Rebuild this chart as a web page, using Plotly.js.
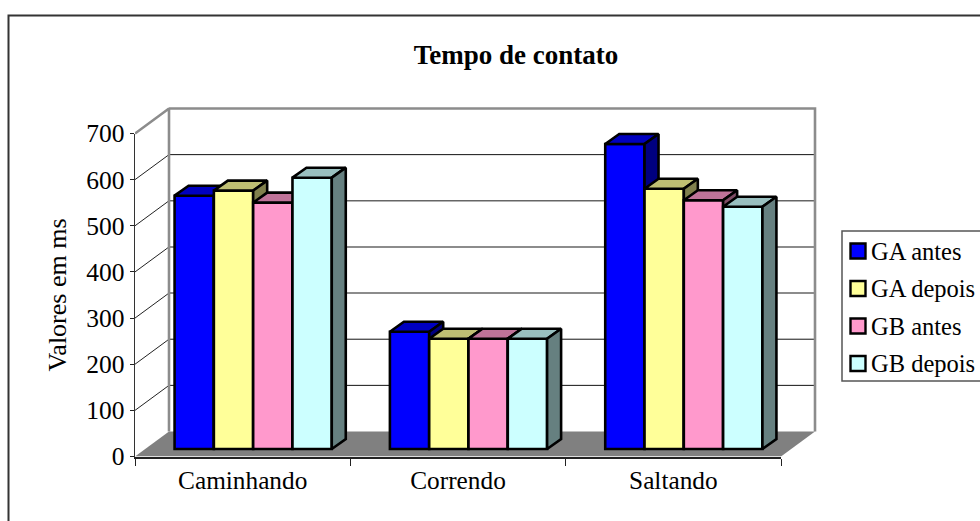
<!DOCTYPE html>
<html><head><meta charset="utf-8">
<script src="https://cdn.plot.ly/plotly-3.0.1.min.js"></script>
<style>html,body{margin:0;padding:0;background:#fff;overflow:hidden}</style>
</head><body><div id="chart" style="width:980px;height:521px"></div>
<script>
const categories = ['Caminhando', 'Correndo', 'Saltando'];
const seriesNames = ['GA antes', 'GA depois', 'GB antes', 'GB depois'];
const gaAntes = [549, 254, 661];
const gaDepois = [560, 239, 564];
const gbAntes = [534, 239, 539];
const gbDepois = [588, 239, 525];
const seriesValues = [gaAntes, gaDepois, gbAntes, gbDepois];
const yTicks = [0, 100, 200, 300, 400, 500, 600, 700];

// styles
const frontColors = ['#0000FF', '#FFFF99', '#FF99CC', '#CCFFFF'];
const topColors = ['#0000C0', '#BFBF73', '#BF7399', '#99BFBF'];
const sideColors = ['#000080', '#80804D', '#804D66', '#668080'];
const gridColors = ['', '#111', '#111', '#666', '#666', '#666', '#111', ''];
const gridWidths = [0, 1, 1, 1.6, 1.6, 1.6, 1, 0];
const F = 'Liberation Serif, Times New Roman, serif';
const edge = 2.6;

// plot geometry (pixels)
const W = 980, H = 521, PAD = 5;
const X0 = 135, X1 = 781, Y0 = 456.5, Y700 = 133.5;
const wallPx = [34, 25], barDepthPx = [14, 10], barShiftPx = [10.5, 7.5];
const pxPerCat = (X1 - X0) / categories.length, pxPerUnit = (Y0 - Y700) / 700;
const ux = p => p / pxPerCat, uy = p => p / pxPerUnit;
const wallDx = ux(wallPx[0]), wallDy = uy(wallPx[1]);
const depthDx = ux(barDepthPx[0]), depthDy = uy(barDepthPx[1]);
const baseDx = ux(barShiftPx[0]), baseDy = uy(barShiftPx[1]);
const barW = 39.3 / pxPerCat;
const left = -0.5, right = categories.length - 0.5, ymax = yTicks[yTicks.length - 1];

const traces = [];
const line = (xs, ys, color, width) => ({type: 'scatter', mode: 'lines', x: xs, y: ys, xaxis: 'x', yaxis: 'y', cliponaxis: false,
  line: {color, width}, hoverinfo: 'skip', showlegend: false});

// floor
traces.push({type: 'scatter', mode: 'lines', xaxis: 'x', yaxis: 'y', fill: 'toself', fillcolor: '#808080',
  x: [left, right, right + wallDx, left + wallDx, left], y: [0, 0, wallDy, wallDy, 0],
  line: {width: 0, color: '#808080'}, hoverinfo: 'skip', showlegend: false});
// back-wall grid lines and side-wall diagonals
yTicks.forEach((t, i) => {
  if (t > 0 && t < ymax) traces.push(line([left + wallDx, right + wallDx], [t + wallDy, t + wallDy], gridColors[i], gridWidths[i]));
  if (t > 0 && t < ymax) traces.push(line([left, left + wallDx], [t, t + wallDy], '#222', 1));
});
// wall frame
traces.push(line([left, left + wallDx, left + wallDx], [ymax, ymax + wallDy, wallDy], '#8c8c8c', 2.6));
traces.push(line([left + wallDx, right + wallDx, right + wallDx], [ymax + wallDy, ymax + wallDy, wallDy], '#8c8c8c', 2.6));

// one overlaid subplot per series, so each series paints over the previous one
seriesValues.forEach((vals, s) => {
  const ax = String(s + 2);
  const xs = vals.map((v, c) => c + baseDx + (s - 1.5) * barW);
  traces.push({type: 'bar', x: xs, y: vals, base: vals.map(() => baseDy), width: barW, name: seriesNames[s],
    xaxis: 'x' + ax, yaxis: 'y' + ax, showlegend: false,
    marker: {color: frontColors[s], line: {color: '#000', width: edge}}});
  const tx = [], ty = [], sx = [], sy = [];
  vals.forEach((v, c) => {
    const a = xs[c] - barW / 2, b = xs[c] + barW / 2, top = baseDy + v;
    tx.push(a, b, b + depthDx, a + depthDx, a, null);
    ty.push(top, top, top + depthDy, top + depthDy, top, null);
    sx.push(b, b + depthDx, b + depthDx, b, b, null);
    sy.push(baseDy, baseDy + depthDy, top + depthDy, top, baseDy, null);
  });
  [[tx, ty, topColors[s]], [sx, sy, sideColors[s]]].forEach(([px, py, col]) => traces.push({
    type: 'scatter', mode: 'lines', x: px, y: py, xaxis: 'x' + ax, yaxis: 'y' + ax, fill: 'toself', fillcolor: col, cliponaxis: false,
    line: {color: '#000', width: edge}, hoverinfo: 'skip', showlegend: false}));
});

// carrier for the visible axes
traces.push({type: 'scatter', mode: 'lines', x: categories, y: categories.map(() => 0), xaxis: 'x6', yaxis: 'y6',
  line: {width: 0}, hoverinfo: 'skip', showlegend: false});

// the scene runs a few pixels past the wall so its outer frame lines are not clipped
const sceneDomX = [X0 / W, (X1 + wallPx[0] + PAD) / W], sceneDomY = [1 - Y0 / H, 1 - (Y700 - wallPx[1] - PAD) / H];
const sceneX = {range: [left, right + wallDx + ux(PAD)], domain: sceneDomX, visible: false, fixedrange: true};
const sceneY = {range: [0, ymax + wallDy + uy(PAD)], domain: sceneDomY, visible: false, fixedrange: true};

const layout = {
  width: W, height: H, margin: {l: 0, r: 0, t: 0, b: 0}, autosize: false,
  paper_bgcolor: '#fff', plot_bgcolor: 'rgba(0,0,0,0)', showlegend: false,
  font: {family: F, color: '#000', size: 25},
  title: {text: '<b>Tempo de contato</b>', x: 516 / W, xanchor: 'center', y: 1 - 55 / H, yanchor: 'middle',
    font: {family: F, size: 27, color: '#000'}},
  xaxis: sceneX, yaxis: sceneY,
  xaxis6: {domain: [X0 / W, X1 / W], anchor: 'y6', type: 'category', categoryarray: categories, categoryorder: 'array',
    tickson: 'boundaries', ticks: 'outside', ticklen: 7, tickwidth: 1, tickcolor: '#222',
    range: [left, right], showgrid: false, zeroline: false, showline: true, linecolor: '#222', linewidth: 2,
    tickfont: {family: F, size: 25.3, color: '#000'}, fixedrange: true},
  yaxis6: {domain: [1 - Y0 / H, 1 - Y700 / H], anchor: 'x6', range: [0, ymax], tickvals: yTicks, ticktext: yTicks.map(String),
    ticks: 'outside', ticklen: 4, tickwidth: 1, tickcolor: '#222', showgrid: false, zeroline: false,
    showline: true, linecolor: '#333', linewidth: 1.5, tickfont: {family: F, size: 25.5, color: '#000'},
    title: {text: 'Valores em ms', font: {family: F, size: 26, color: '#000'}, standoff: 12}, fixedrange: true},
  shapes: [
    {type: 'rect', xref: 'paper', yref: 'paper', x0: 8.5 / W, x1: 1.05, y0: -0.05, y1: 1 - 15.5 / H, line: {color: '#333', width: 2}, fillcolor: 'rgba(0,0,0,0)', layer: 'below'},
    {type: 'rect', xref: 'paper', yref: 'paper', x0: 842 / W, x1: 1.05, y0: 1 - 381 / H, y1: 1 - 231 / H, line: {color: '#555', width: 1.5}, fillcolor: '#fff', layer: 'below'}
  ],
  annotations: []
};
[2, 3, 4, 5].forEach(n => {
  layout['xaxis' + n] = {...sceneX, overlaying: 'x', anchor: 'y' + n};
  layout['yaxis' + n] = {...sceneY, overlaying: 'y', anchor: 'x' + n};
});
const legendY = [251, 288.5, 326, 363.5];
seriesNames.forEach((n, i) => {
  layout.shapes.push({type: 'rect', xref: 'paper', yref: 'paper', x0: 850.5 / W, x1: 865.5 / W,
    y0: 1 - (legendY[i] + 7.5) / H, y1: 1 - (legendY[i] - 7.5) / H, fillcolor: frontColors[i], line: {color: '#000', width: 2.4}});
  layout.annotations.push({text: n, xref: 'paper', yref: 'paper', x: 871 / W, y: 1 - legendY[i] / H, xanchor: 'left', yanchor: 'middle',
    showarrow: false, xshift: -2, font: {family: F, size: 24.5, color: '#000'}});
});
Plotly.newPlot('chart', traces, layout, {displayModeBar: false, staticPlot: true});
</script></body></html>
